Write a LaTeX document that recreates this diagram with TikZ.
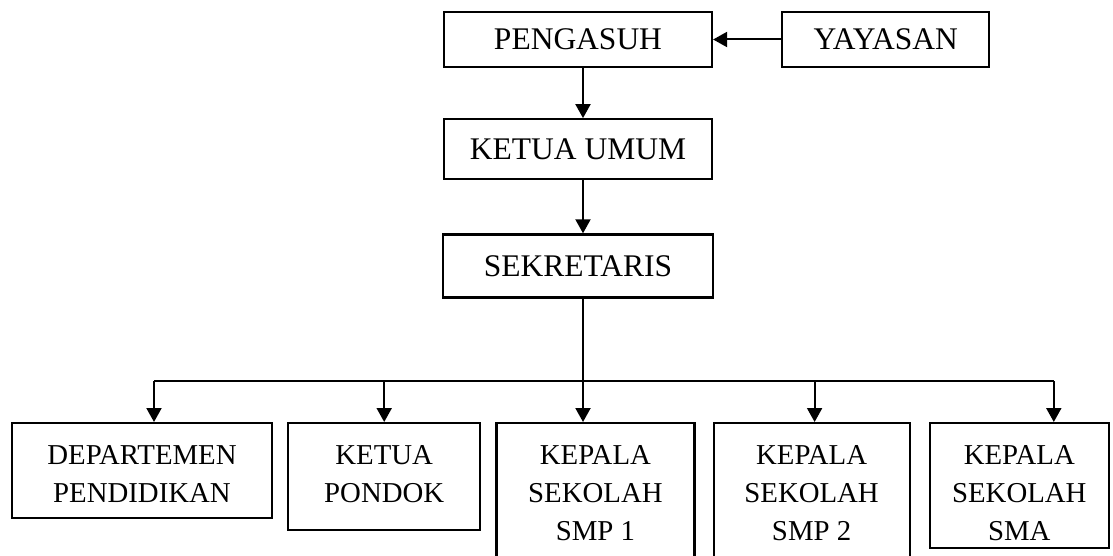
\documentclass[tikz,border=0pt]{standalone}
\usepackage{fontspec}
\setmainfont{Liberation Serif}
\usepackage{tikz}
\usetikzlibrary{arrows.meta,positioning}
\tikzset{
  upper/.style={draw=black, line width=1.1pt, align=center,
        font=\fontsize{15.75}{19}\selectfont},
  lower/.style={draw=black, line width=1.1pt, align=center, inner sep=0pt,
        font=\fontsize{14.4}{19}\selectfont},
  twoline/.style={lower, text height=39.8pt},
  threeline/.style={lower, text height=58.8pt},
  flow/.style={-{Triangle[length=7pt, width=7.5pt]}, line width=1pt, draw=black},
  bus/.style={line width=0.7pt, draw=black}
}

\begin{document}
\begin{tikzpicture}[x=1pt, y=-1pt, node distance=25pt and 34pt]
\useasboundingbox (0,0) rectangle (556.5,278);
\node[upper, minimum width=134pt, minimum height=27.5pt] (pengasuh) at (289,19.75) {PENGASUH};
\node[upper, minimum width=103.5pt, minimum height=27.5pt, right=of pengasuh] (yayasan) {YAYASAN};
\node[upper, minimum width=134pt, minimum height=30pt, below=of pengasuh] (ketua) {KETUA UMUM};
\node[upper, minimum width=135pt, minimum height=31.5pt, below=26.5pt of ketua] (sekretaris) {SEKRETARIS};
\node[twoline, minimum width=130pt, text depth=7.7pt, anchor=north] (departemen) at (71,211) {DEPARTEMEN\\PENDIDIKAN};
\node[twoline, minimum width=96pt, text depth=13.7pt, right=7pt of departemen.north east, anchor=north west] (pondok) {KETUA\\PONDOK};
\node[threeline, minimum width=99pt, text depth=15.2pt, right=7pt of pondok.north east, anchor=north west] (smp1) {KEPALA\\SEKOLAH\\SMP 1};
\node[threeline, minimum width=98pt, text depth=15.2pt, right=8.5pt of smp1.north east, anchor=north west] (smp2) {KEPALA\\SEKOLAH\\SMP 2};
\node[threeline, minimum width=89.5pt, text depth=3.7pt, right=9pt of smp2.north east, anchor=north west] (sma) {KEPALA\\SEKOLAH\\SMA};
\coordinate (bar) at ([yshift=20.5pt]smp1.north);

\draw[flow] (yayasan) -- (pengasuh);
\draw[flow] ([xshift=2.5pt]pengasuh.south) -- ([xshift=2.5pt]ketua.north);
\draw[flow] ([xshift=2.5pt]ketua.south) -- ([xshift=2.5pt]sekretaris.north);
\draw[flow] ([xshift=2.5pt]sekretaris.south) -- ([xshift=2.5pt]sekretaris.south |- smp1.north);
\draw[bus] ([xshift=6pt]departemen.north |- bar) -- ([xshift=17.25pt]sma.north |- bar);
\draw[flow] ([xshift=6pt]departemen.north |- bar) -- ([xshift=6pt]departemen.north);
\draw[flow] (pondok.north |- bar) -- (pondok.north);
\draw[flow] ([xshift=1.5pt]smp2.north |- bar) -- ([xshift=1.5pt]smp2.north);
\draw[flow] ([xshift=17.25pt]sma.north |- bar) -- ([xshift=17.25pt]sma.north);
\end{tikzpicture}
\end{document}
